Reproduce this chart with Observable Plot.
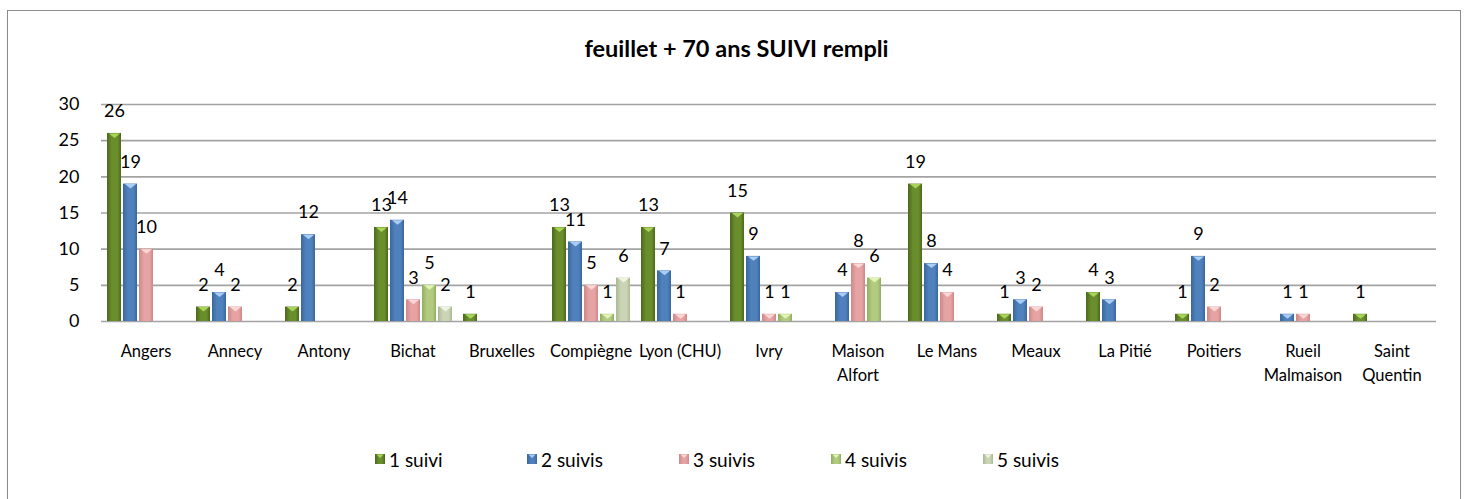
<!DOCTYPE html>
<html>
<head>
<meta charset="utf-8">
<script src="https://cdn.jsdelivr.net/npm/d3@7"></script>
<script src="https://cdn.jsdelivr.net/npm/@observablehq/plot@0.6"></script>
<style>
  html, body { margin: 0; padding: 0; background: #fff; }
  #wrap { position: relative; width: 1473px; height: 499px; overflow: hidden; font-family: Lato, "Open Sans", sans-serif; }
  #frame { position: absolute; left: 7px; top: 10px; width: 1454px; height: 520px; border: 1.5px solid #8c8c8c; box-sizing: border-box; }
  #title { position: absolute; left: 0; top: 0; width: 1473px; height: 90px; text-align: center; font-weight: bold; font-size: 23.5px; line-height: 96px; color: #000; }
  #chart { position: absolute; left: 0; top: 90px; }
  #legend { position: absolute; left: 375px; top: 446px; height: 26px; display: flex; font-size: 19px; color: #000; }
  .item { width: 152px; display: flex; align-items: center; }
  .sw { width: 10px; height: 10px; margin-right: 4px; position: relative; }
</style>
</head>
<body>
<div id="wrap">
  <div id="frame"></div>
  <div id="title">feuillet + 70 ans SUIVI rempli</div>
  <div id="chart"></div>
  <div id="legend"></div>
</div>
<script>
const cities = ["Angers","Annecy","Antony","Bichat","Bruxelles","Compiègne","Lyon (CHU)","Ivry","Maison Alfort","Le Mans","Meaux","La Pitié","Poitiers","Rueil Malmaison","Saint Quentin"];
const cityLabels = ["Angers","Annecy","Antony","Bichat","Bruxelles","Compiègne","Lyon (CHU)","Ivry","Maison\nAlfort","Le Mans","Meaux","La Pitié","Poitiers","Rueil\nMalmaison","Saint\nQuentin"];
const series = ["1 suivi","2 suivis","3 suivis","4 suivis","5 suivis"];
const suivi1 = [26, 2, 2, 13, 1, 13, 13, 15, null, 19, 1, 4, 1, null, 1];
const suivi2 = [19, 4, 12, 14, null, 11, 7, 9, 4, 8, 3, 3, 9, 1, null];
const suivi3 = [10, 2, null, 3, null, 5, 1, 1, 8, 4, 2, null, 2, 1, null];
const suivi4 = [null, null, null, 5, null, 1, null, 1, 6, null, null, null, null, null, null];
const suivi5 = [null, null, null, 2, null, 6, null, null, null, null, null, null, null, null, null];
const yTicks = [0, 5, 10, 15, 20, 25, 30];

const seriesValues = [suivi1, suivi2, suivi3, suivi4, suivi5];
const mainColors = ["#6a8e2c", "#4f81bd", "#e5a3a3", "#b2cb80", "#cbd5b6"];
const darkColors = ["#4c681d", "#3a679d", "#cf8787", "#92ad60", "#a9b893"];
const lightColors = ["#a9d45a", "#a9cdf5", "#fbd6d6", "#e2f3b3", "#eef3e2"];

const rows = [];
series.forEach((s, i) => {
  seriesValues[i].forEach((v, j) => {
    if (v != null) rows.push({city: cities[j], series: s, value: v});
  });
});

const flatTri = {
  draw(context, size) {
    const w = Math.sqrt(size);
    context.moveTo(-w / 2, 0);
    context.lineTo(w / 2, 0);
    context.lineTo(0, w * 0.4);
    context.closePath();
  }
};

const chart = Plot.plot({
  width: 1473,
  height: 291,
  marginLeft: 97,
  marginRight: 34,
  marginTop: 14,
  marginBottom: 60,
  style: {fontFamily: "Lato, 'Open Sans', sans-serif", background: "transparent", color: "#000", overflow: "visible"},
  fx: {domain: cities, padding: 0, label: null},
  x: {domain: series, paddingInner: 0.15, paddingOuter: 0.3, axis: null},
  y: {domain: [0, 30], axis: null},
  color: {domain: series, range: series.map((s, i) => `url(#grad${i})`)},
  marks: [
    Plot.ruleY(yTicks, {stroke: "#a3a3a3", strokeWidth: 1.6}),
    Plot.axisY({ticks: yTicks, tickSize: 0, tickPadding: 22, fontSize: 18, label: null}),
    Plot.axisFx({anchor: "bottom", tickSize: 0, tickPadding: 19, fontSize: 16.5, lineHeight: 1.42, label: null,
                 tickFormat: d => cityLabels[cities.indexOf(d)]}),
    Plot.barY(rows, {fx: "city", x: "series", y: "value", fill: "series"}),
    ...series.map((s, i) => Plot.dot(rows.filter(d => d.series === s),
      {fx: "city", x: "series", y: "value", symbol: flatTri, r: 6.3, fill: lightColors[i], stroke: "none"})),
    Plot.text(rows, {fx: "city", x: "series", y: "value", text: d => String(d.value), dy: -22, fontSize: 18, fill: "#000"})
  ]
});

const defs = d3.select(chart).insert("defs", ":first-child");
series.forEach((s, i) => {
  const g = defs.append("linearGradient").attr("id", `grad${i}`).attr("x1", "0").attr("x2", "1").attr("y1", "0").attr("y2", "0");
  g.append("stop").attr("offset", "0%").attr("stop-color", darkColors[i]);
  g.append("stop").attr("offset", "35%").attr("stop-color", mainColors[i]);
  g.append("stop").attr("offset", "75%").attr("stop-color", mainColors[i]);
  g.append("stop").attr("offset", "100%").attr("stop-color", darkColors[i]);
});

document.getElementById("chart").appendChild(chart);

const legend = document.getElementById("legend");
series.forEach((s, i) => {
  const item = document.createElement("div");
  item.className = "item";
  const sw = document.createElement("div");
  sw.className = "sw";
  sw.style.background = `linear-gradient(to right, ${darkColors[i]}, ${mainColors[i]} 40%, ${mainColors[i]} 70%, ${darkColors[i]})`;
  sw.innerHTML = `<svg width="10" height="10" style="position:absolute;left:0;top:0"><path d="M1.5,0.5 L8.5,0.5 L5,4 Z" fill="${lightColors[i]}"/></svg>`;
  const t = document.createElement("span");
  t.textContent = s;
  item.appendChild(sw);
  item.appendChild(t);
  legend.appendChild(item);
});
</script>
</body>
</html>
